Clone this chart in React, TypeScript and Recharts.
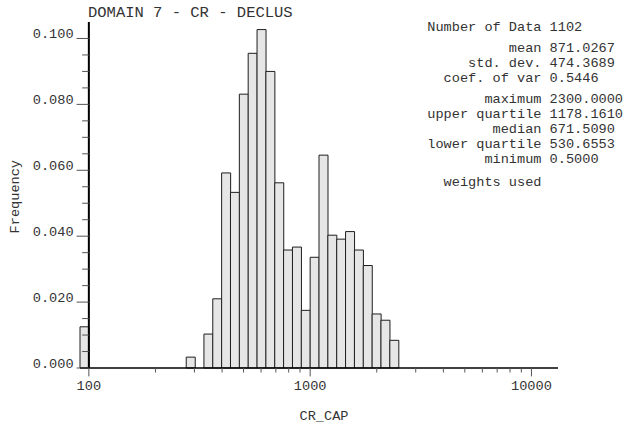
import React from 'react';
import { BarChart, Bar, XAxis, YAxis, ReferenceLine } from 'recharts';

// histogram bins: lower edge in log10(CR_CAP), width 0.04
const BIN_EDGES_LOG = [
  1.96, 2.0, 2.04, 2.08, 2.12, 2.16, 2.2, 2.24, 2.28, 2.32, 2.36, 2.4, 2.44, 2.48,
  2.52, 2.56, 2.6, 2.64, 2.68, 2.72, 2.76, 2.8, 2.84, 2.88, 2.92, 2.96, 3.0, 3.04,
  3.08, 3.12, 3.16, 3.2, 3.24, 3.28, 3.32, 3.36, 3.4, 3.44, 3.48, 3.52, 3.56, 3.6,
  3.64, 3.68, 3.72, 3.76, 3.8, 3.84, 3.88, 3.92, 3.96, 4.0, 4.04, 4.08,
];
const BIN_WIDTH_LOG = 0.04;

const FREQUENCY = [
  0.0125, 0, 0, 0, 0, 0, 0, 0, 0, 0, 0, 0, 0.0033, 0,
  0.0103, 0.021, 0.0592, 0.0533, 0.0831, 0.0955, 0.1027, 0.09, 0.0562, 0.0358, 0.0367, 0.0175, 0.0336, 0.0646,
  0.0403, 0.0391, 0.0414, 0.0358, 0.0311, 0.0164, 0.0145, 0.0084, 0, 0, 0, 0, 0, 0,
  0, 0, 0, 0, 0, 0, 0, 0, 0, 0, 0, 0,
];

const X_MAJOR_TICKS = [100, 1000, 10000];
const X_MINOR_TICKS = [200, 300, 400, 500, 600, 700, 800, 900, 2000, 3000, 4000, 5000, 6000, 7000, 8000, 9000];
const Y_MAJOR_TICKS = [0, 0.02, 0.04, 0.06, 0.08, 0.1];
const Y_MINOR_TICKS = [0.005, 0.01, 0.015, 0.025, 0.03, 0.035, 0.045, 0.05, 0.055, 0.065, 0.07, 0.075, 0.085, 0.09, 0.095];

const TITLE = 'DOMAIN 7 - CR - DECLUS';
const STAT_LABELS = ['Number of Data', 'mean', 'std. dev.', 'coef. of var', 'maximum', 'upper quartile', 'median', 'lower quartile', 'minimum', 'weights used'];
const STAT_VALUES = ['1102', '871.0267', '474.3689', '0.5446', '2300.0000', '1178.1610', '671.5090', '530.6553', '0.5000', ''];

const W = 626;
const H = 431;
const MARGIN = { top: 22, right: 68, bottom: 33, left: 0 };
const Y_AXIS_W = 80;
const X_AXIS_H = 30;
const LOG_MIN = 1.96;
const LOG_MAX = 4.12;
const PLOT_W = W - MARGIN.left - MARGIN.right - Y_AXIS_W;
// y axis line sits at CR_CAP = 100, one bin right of the plot's left edge
const AXIS_OFFSET = (PLOT_W * (Math.log10(100) - LOG_MIN)) / (LOG_MAX - LOG_MIN);

const FONT = "'Liberation Mono', 'Courier New', monospace";
const TEXT = '#333';
const TICK = '#555';

const STAT_Y = [30.7, 51.7, 66.6, 81.6, 102.7, 117.8, 132.9, 148, 163.1, 185.7];

const data = BIN_EDGES_LOG.map((e, i) => ({
  bin: e.toFixed(2),
  center: e + BIN_WIDTH_LOG / 2,
  freq: FREQUENCY[i],
}));

const isMajorY = (v: number) => Y_MAJOR_TICKS.some((t) => Math.abs(t - v) < 1e-9);
const isMajorX = (v: number) => X_MAJOR_TICKS.some((t) => Math.abs(Math.log10(t) - v) < 1e-9);

const YTick = (props: any) => {
  const { x, y, payload } = props;
  const ax = x + AXIS_OFFSET;
  const major = isMajorY(payload.value);
  return (
    <g>
      <line x1={ax - (major ? 12.3 : 6.7)} x2={ax} y1={y} y2={y} stroke={TICK} strokeWidth={1} />
      {major && (
        <text x={ax - 15.3} y={y} textAnchor="end" fontFamily={FONT} fontSize={13.6} fill={TEXT}>
          {payload.value.toFixed(3)}
        </text>
      )}
    </g>
  );
};

const XTick = (props: any) => {
  const { x, y, payload } = props;
  const major = isMajorX(payload.value);
  return (
    <g>
      <line x1={x} x2={x} y1={y} y2={y + (major ? 8.4 : 4.5)} stroke={TICK} strokeWidth={1} />
      {major && (
        <text x={x} y={y + 22.4} textAnchor="middle" fontFamily={FONT} fontSize={13.6} fill={TEXT}>
          {Math.round(Math.pow(10, payload.value))}
        </text>
      )}
    </g>
  );
};

const App: React.FC = () => {
  const xTicks = [...X_MAJOR_TICKS, ...X_MINOR_TICKS].sort((a, b) => a - b).map((v) => Math.log10(v));
  const yTicks = [...Y_MAJOR_TICKS, ...Y_MINOR_TICKS].sort((a, b) => a - b);

  return (
    <div style={{ position: 'absolute', left: 0, top: 0, width: W, height: H, background: '#fff' }}>
      <BarChart width={W} height={H} data={data} margin={MARGIN} barCategoryGap={0} barGap={0}>
        <XAxis xAxisId="bins" dataKey="bin" type="category" hide height={0} />
        <XAxis
          xAxisId="log"
          dataKey="center"
          type="number"
          domain={[LOG_MIN, LOG_MAX]}
          allowDataOverflow
          ticks={xTicks}
          interval={0}
          height={X_AXIS_H}
          tickSize={0}
          tickMargin={0}
          tickLine={false}
          axisLine={{ stroke: '#000', strokeWidth: 1.5 }}
          tick={<XTick />}
        />
        <YAxis
          type="number"
          domain={[0, 0.105]}
          ticks={yTicks}
          interval={0}
          width={Y_AXIS_W}
          tickSize={0}
          tickMargin={0}
          tickLine={false}
          axisLine={false}
          tick={<YTick />}
        />
        <Bar
          xAxisId="bins"
          dataKey="freq"
          fill="#e6e6e6"
          stroke="#1e1e1e"
          strokeWidth={1}
          isAnimationActive={false}
        />
        <ReferenceLine xAxisId="log" x={Math.log10(100)} stroke="#000" strokeWidth={2} />
      </BarChart>

      <svg width={W} height={H} style={{ position: 'absolute', left: 0, top: 0, pointerEvents: 'none' }}>
        <text x={88} y={16.7} fontFamily={FONT} fontSize={15.5} fill={TEXT}>
          {TITLE}
        </text>
        {STAT_LABELS.map((label, i) => (
          <g key={label}>
            <text x={541.5} y={STAT_Y[i]} textAnchor="end" fontFamily={FONT} fontSize={13.6} fill={TEXT}>
              {label}
            </text>
            {STAT_VALUES[i] && (
              <text x={549.6} y={STAT_Y[i]} fontFamily={FONT} fontSize={13.6} fill={TEXT}>
                {STAT_VALUES[i]}
              </text>
            )}
          </g>
        ))}
        <text
          x={19}
          y={196.7}
          transform="rotate(-90 19 196.7)"
          textAnchor="middle"
          fontFamily={FONT}
          fontSize={13.6}
          fill={TEXT}
        >
          Frequency
        </text>
        <text x={324} y={419.5} textAnchor="middle" fontFamily={FONT} fontSize={13.6} fill={TEXT}>
          CR_CAP
        </text>
      </svg>
    </div>
  );
};

export default App;
